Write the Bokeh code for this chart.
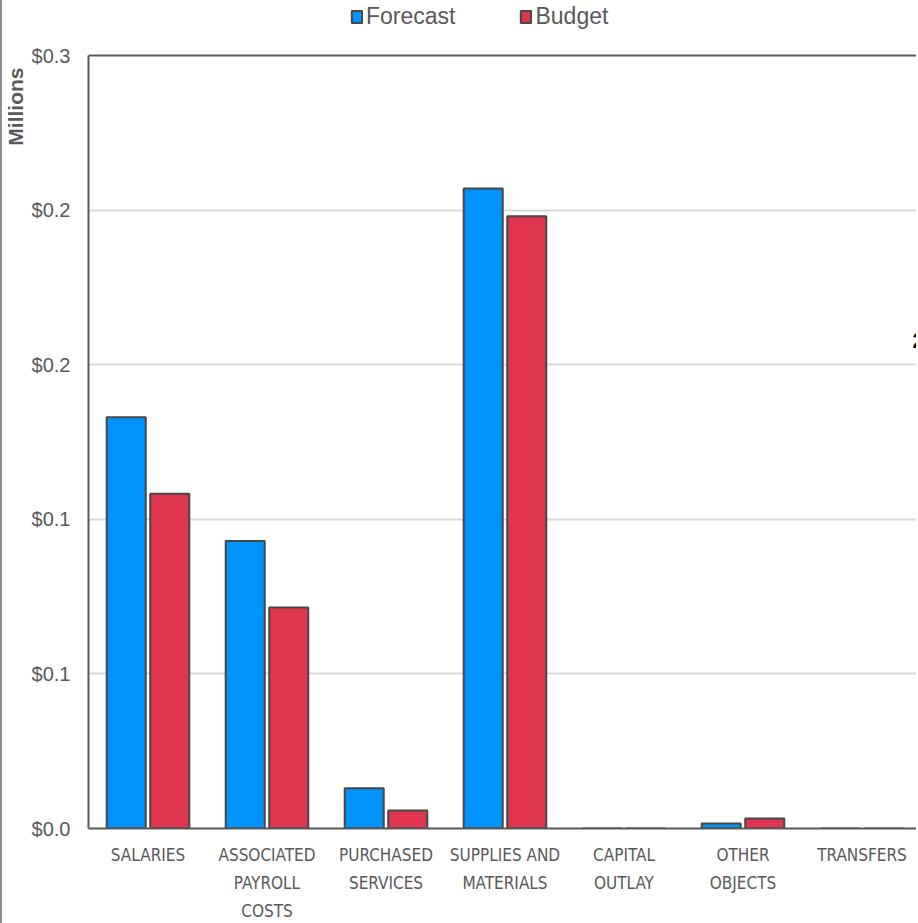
from bokeh.plotting import figure
from bokeh.models import (ColumnDataSource, Range1d, FixedTicker, LinearAxis,
                          Legend, LegendItem, Label, Title, Span)
from bokeh.embed import file_html
from bokeh.resources import INLINE

# Spending by object category, in millions of dollars
categories = ["SALARIES", "ASSOCIATED\nPAYROLL\nCOSTS", "PURCHASED\nSERVICES",
              "SUPPLIES AND\nMATERIALS", "CAPITAL\nOUTLAY", "OTHER\nOBJECTS", "TRANSFERS"]
forecast = [0.133, 0.093, 0.013, 0.207, 0.0, 0.0016, 0.0]
budget = [0.1083, 0.0715, 0.0058, 0.198, 0.0, 0.0032, 0.0]

y_ticks = [0.0, 0.05, 0.10, 0.15, 0.20, 0.25]
y_tick_labels = ["$0.0", "$0.1", "$0.1", "$0.2", "$0.2", "$0.3"]

BLUE = "#0094FC"
RED = "#E0354F"
EDGE = "#474747"
GREY_TXT = "#595959"
ARIAL = "Liberation Sans, Arial, sans-serif"
NARROW = "Liberation Sans Narrow, DejaVu Sans Condensed, Roboto, sans-serif"

centers = [i + 0.5 for i in range(len(categories))]
offset, bar_w = 0.183, 0.328

# the plotting frame reaches the top of the canvas so the legend can sit above the bars;
# the value axis itself stops at its last tick
Y_MAX = y_ticks[-1]
HEADROOM = 828 / 773

src = ColumnDataSource(dict(
    xf=[c - offset for c in centers],
    xb=[c + offset for c in centers],
    forecast=forecast,
    budget=budget,
))

p = figure(width=916, height=923, output_backend="svg", toolbar_location=None,
           x_range=Range1d(0, 6.975), y_range=Range1d(0, Y_MAX * HEADROOM),
           min_border_left=86, min_border_right=0, min_border_top=0, min_border_bottom=95,
           x_axis_location=None, y_axis_location=None)
p.styles = {"border-left": "2px solid #8c8c8c"}
p.outline_line_color = None
p.background_fill_color = "white"

# value axis
yax = LinearAxis(ticker=FixedTicker(ticks=y_ticks), bounds=(0, Y_MAX),
                 major_label_overrides={t: s for t, s in zip(y_ticks, y_tick_labels)})
yax.axis_line_color = GREY_TXT
yax.axis_line_width = 2
yax.major_tick_in = 0
yax.major_tick_out = 0
yax.minor_tick_line_color = None
yax.major_label_standoff = 18
yax.major_label_text_font = ARIAL
yax.major_label_text_font_size = "20px"
yax.major_label_text_color = GREY_TXT
p.add_layout(yax, "left")

# units title, outside the value axis
p.add_layout(Title(text="Millions", align="right", vertical_align="top", standoff=0, offset=67,
                   text_font=ARIAL, text_font_size="21px", text_font_style="bold",
                   text_color=GREY_TXT), "left")

# category axis
xax = LinearAxis(ticker=FixedTicker(ticks=centers),
                 major_label_overrides={c: s for c, s in zip(centers, categories)})
xax.axis_line_color = GREY_TXT
xax.axis_line_width = 2
xax.major_tick_in = 0
xax.major_tick_out = 0
xax.minor_tick_line_color = None
xax.major_label_standoff = 16
xax.major_label_text_font = NARROW
xax.major_label_text_font_size = "17px"
xax.major_label_text_color = GREY_TXT
xax.major_label_text_line_height = 1.4
p.add_layout(xax, "below")

# top edge of the value area
p.add_layout(Span(location=Y_MAX, dimension="width", line_color=GREY_TXT, line_width=2))

# grid
p.ygrid.ticker = FixedTicker(ticks=y_ticks[1:-1])
p.ygrid.grid_line_color = "#d9d9d9"
p.ygrid.grid_line_width = 2
p.xgrid.grid_line_color = None

# bars
rf = p.vbar(x="xf", top="forecast", width=bar_w, source=src,
            fill_color=BLUE, line_color=EDGE, line_width=2)
rb = p.vbar(x="xb", top="budget", width=bar_w, source=src,
            fill_color=RED, line_color=EDGE, line_width=2)

# figure number at the right edge
p.add_layout(Label(x=824, y=488, x_units="screen", y_units="screen", text="2",
                   text_align="left", text_baseline="middle",
                   text_font=ARIAL, text_font_size="22px", text_font_style="bold",
                   text_color="black"))

legend = Legend(items=[LegendItem(label="Forecast", renderers=[rf]),
                       LegendItem(label="Budget", renderers=[rb])],
                orientation="horizontal", location=(262, 798),
                glyph_width=13, glyph_height=15, label_standoff=3, spacing=64,
                padding=0, margin=0, border_line_color=None, background_fill_alpha=0,
                label_text_font=ARIAL, label_text_font_size="23px",
                label_text_color=GREY_TXT)
p.add_layout(legend, "center")

open("out.html", "w").write(file_html(p, INLINE))
